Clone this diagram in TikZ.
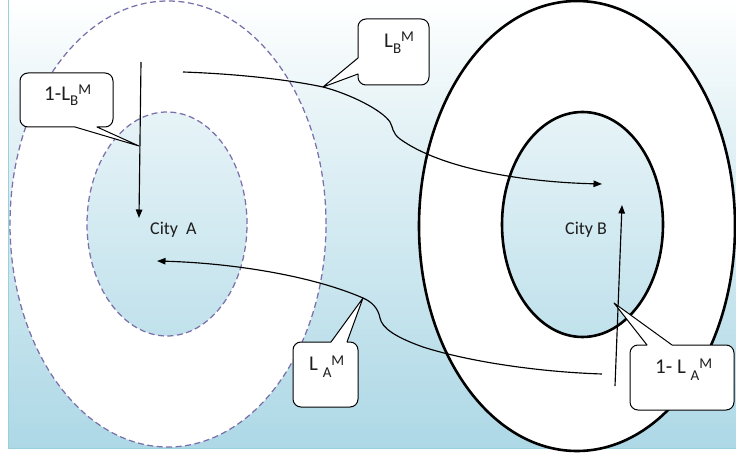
\documentclass[tikz,border=0pt]{standalone}
\usepackage{fontspec}
\setmainfont{Carlito}
\usetikzlibrary{arrows.meta}
\definecolor{bgbot}{HTML}{ADD8E6}
\definecolor{bgmid}{HTML}{E6F3F7}
\definecolor{dashcol}{HTML}{7A70AA}
\definecolor{framecol}{HTML}{9ACFDC}
\definecolor{txt}{HTML}{1E1E1E}
\pgfdeclareverticalshading{bgshade}{100bp}{color(0bp)=(bgbot); color(25bp)=(bgbot); color(62bp)=(bgmid); color(75bp)=(white); color(100bp)=(white)}
\newcommand\cLo[2][-5.5pt]{\raisebox{#1}{\fontsize{15}{15}\selectfont #2}}
\newcommand\cHi[2][6pt]{\raisebox{#1}{\fontsize{15}{15}\selectfont #2}}
\begin{document}
\begin{tikzpicture}[x=1pt,y=-1pt,
  dashring/.style={draw=dashcol,line width=1.25pt,dash pattern=on 6pt off 3.5pt},
  solidring/.style={draw=black,line width=2.6pt},
  flow/.style={draw=black,line width=1.15pt,-{Triangle[length=8.5pt,width=6.5pt]}},
  callbox/.style={draw=black,fill=white,line width=1pt,line join=round},
  citylab/.style={text=txt,font=\fontsize{18}{18}\selectfont,inner sep=0pt,anchor=base west},
  calltext/.style={text=txt,font=\fontsize{21}{21}\selectfont,inner sep=0pt,anchor=base west}]
\useasboundingbox (0,0) rectangle (736,454);
\shade[shading=bgshade] (8,0) rectangle (736,448);
\draw[framecol,line width=1pt] (8,0) -- (8,448) -- (736,448);
% rings
\fill[white,even odd rule] (168,224) ellipse[x radius=158pt,y radius=223pt] (167,224) ellipse[x radius=80pt,y radius=112pt];
\draw[dashring] (168,224) ellipse[x radius=158pt,y radius=223pt];
\draw[dashring] (167,224) ellipse[x radius=80pt,y radius=112pt];
\fill[white,even odd rule] (577,226) ellipse[x radius=158pt,y radius=225pt] (582.5,224.5) ellipse[x radius=80.5pt,y radius=112.5pt];
\draw[solidring] (577,226) ellipse[x radius=158pt,y radius=225pt];
\draw[solidring] (582.5,224.5) ellipse[x radius=80.5pt,y radius=112.5pt];
% coordinates
\coordinate (a0) at (141,62); \coordinate (a1) at (139,218);
\coordinate (e0) at (615,386); \coordinate (e1) at (622,205);
\coordinate (b0) at (183,72); \coordinate (t2) at (323,87); \coordinate (b2) at (390,122);
\coordinate (b3) at (400,139); \coordinate (b4) at (602,184);
\coordinate (d0) at (602,374); \coordinate (d1) at (423,347); \coordinate (d2) at (380,318);
\coordinate (t3) at (363,298); \coordinate (d4) at (157,261);
\coordinate (t1) at (139,146); \coordinate (t4) at (614,303);
% arrows
\draw[flow] (a0) -- (a1);
\draw[flow] (e0) -- (e1);
\draw[flow] (b0) .. controls (240,74) and (290,80) .. (t2) .. controls (350,94) and (382,110) .. (b2) .. controls (393,127) and (392,133) .. (b3) .. controls (440,168) and (520,182) .. (b4);
\draw[flow] (d0) .. controls (540,372) and (470,362) .. (d1) .. controls (395,337) and (382,328) .. (d2) .. controls (378,308) and (372,302) .. (t3) .. controls (310,275) and (230,263) .. (d4);
% callouts
\draw[callbox] (28,73) -- (105,73) arc[start angle=270,end angle=360,radius=8] -- (113,119) arc[start angle=0,end angle=90,radius=8] -- (97,127) -- (t1) -- (75,127) -- (28,127) arc[start angle=90,end angle=180,radius=8] -- (20,81) arc[start angle=180,end angle=270,radius=8] -- cycle;
\draw[callbox] (366,19) -- (421,19) arc[start angle=270,end angle=360,radius=8] -- (429,77) arc[start angle=0,end angle=90,radius=8] -- (366,85) arc[start angle=90,end angle=180,radius=8] -- (358,74) -- (t2) -- (358,58) -- (358,27) arc[start angle=180,end angle=270,radius=8] -- cycle;
\draw[callbox] (301,342) -- (331,342) -- (t3) -- (347,342) -- (350,342) arc[start angle=270,end angle=360,radius=8] -- (358,399) arc[start angle=0,end angle=90,radius=8] -- (301,407) arc[start angle=90,end angle=180,radius=8] -- (293,350) arc[start angle=180,end angle=270,radius=8] -- cycle;
\draw[callbox] (638,345) -- (647,345) -- (t4) -- (672,345) -- (726,345) arc[start angle=270,end angle=360,radius=8] -- (734,402) arc[start angle=0,end angle=90,radius=8] -- (638,410) arc[start angle=90,end angle=180,radius=8] -- (630,353) arc[start angle=180,end angle=270,radius=8] -- cycle;
% texts
\node[calltext] (l1) at (44,100.5) {1-L\cLo{B}\cHi{M}};
\node[calltext] (l2) at (384,48) {L\cLo{B}\cHi{M}};
\node[calltext] (l3) at (309,370) {L \cLo[-7.5pt]{A}\cHi[4.5pt]{M}};
\node[calltext] (l4) at (655,373) {1- L \cLo[-7pt]{A}\cHi[5pt]{M}};
\node[citylab] (ca) at (150,235) {City\ \ A};
\node[citylab] (cb) at (565,235) {City B};
\end{tikzpicture}
\end{document}
